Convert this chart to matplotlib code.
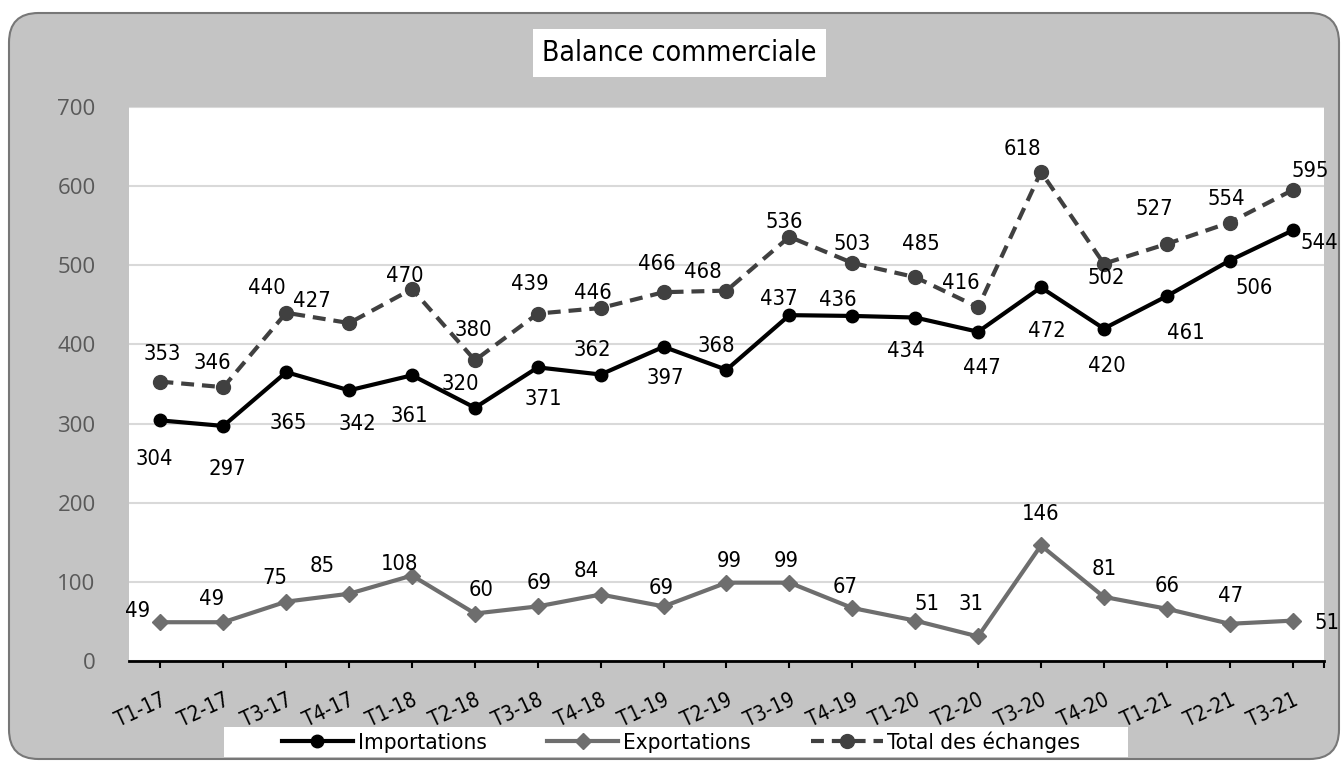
import matplotlib
matplotlib.use("Agg")
import matplotlib.pyplot as plt
from matplotlib import font_manager as fm
from matplotlib.patches import FancyBboxPatch, Rectangle
from matplotlib.lines import Line2D

# data
quarters = ["T1-17", "T2-17", "T3-17", "T4-17", "T1-18", "T2-18", "T3-18", "T4-18",
            "T1-19", "T2-19", "T3-19", "T4-19", "T1-20", "T2-20", "T3-20", "T4-20",
            "T1-21", "T2-21", "T3-21"]
importations = [304, 297, 365, 342, 361, 320, 371, 362, 397, 368, 437, 436, 434, 416, 472, 420, 461, 506, 544]
exportations = [49, 49, 75, 85, 108, 60, 69, 84, 69, 99, 99, 67, 51, 31, 146, 81, 66, 47, 51]
total = [353, 346, 440, 427, 470, 380, 439, 446, 466, 468, 536, 503, 485, 447, 618, 502, 527, 554, 595]

# label texts as printed on the chart (T2-20 labels are swapped in the source)
imp_labels = [str(v) for v in importations]
tot_labels = [str(v) for v in total]
imp_labels[13], tot_labels[13] = "447", "416"
exp_labels = [str(v) for v in exportations]

# label offsets in pixels (dx, dy downwards), placed by hand like in the source
imp_off = [(-6, 39), (4, 43), (2, 51), (8, 34), (-3, 41), (-15, -24), (5, 32), (-8, -25), (2, 31),
           (-10, -24), (-11, -16), (-14, -16), (-9, 33), (4, 36), (6, 44), (3, 37), (19, 37), (25, 27), (27, 13)]
exp_off = [(-23, -11), (-12, -23), (-11, -24), (-27, -28), (-12, -12), (6, -24), (1, -23), (-14, -24), (-2, -18),
           (3, -22), (-3, -22), (-7, -21), (12, -17), (-7, -32), (0, -31), (0, -28), (0, -23), (1, -28), (34, 2)]
tot_off = [(2, -28), (-11, -24), (-19, -25), (-37, -22), (-7, -13), (-2, -30), (-8, -30), (-8, -15), (-7, -28),
           (-24, -19), (-5, -15), (0, -19), (6, -33), (-17, -24), (-19, -23), (2, 14), (-12, -35), (-3, -24), (18, -19)]

# pick a narrow font if one is around
fonts = fm.fontManager.ttflist
names = {f.name for f in fonts}
if "Liberation Sans Narrow" in names:
    narrow = fm.FontProperties(family="Liberation Sans Narrow")
    k = 1.0
elif any(f.name == "DejaVu Sans" and f.stretch == "condensed" for f in fonts):
    narrow = fm.FontProperties(family="DejaVu Sans", stretch="condensed")
    k = 0.85
else:
    narrow = fm.FontProperties(family="Liberation Sans")
    k = 0.86


def fp(size):
    p = narrow.copy()
    p.set_size(size * k)
    return p


W, H = 1341, 763

fig = plt.figure(figsize=(W / 100, H / 100), dpi=100)
fig.patch.set_facecolor("white")

# gray rounded chart area
bg = FancyBboxPatch((9 / W, 1 - 759 / H), 1330 / W, 746 / H,
                    boxstyle="round,pad=0,rounding_size=0.022",
                    transform=fig.transFigure, facecolor="#c4c4c4", edgecolor="#777777",
                    linewidth=1.5, mutation_aspect=W / H, zorder=-10)
fig.patches.append(bg)

ax = fig.add_axes([129 / W, 1 - 661 / H, 1195 / W, 554 / H])
ax.set_facecolor("white")
x = list(range(len(quarters)))

ax.plot(x, importations, color="black", lw=3, marker="o", ms=9, zorder=4)
ax.plot(x, exportations, color="#6e6e6e", lw=3, marker="D", ms=8, zorder=3)
ax.plot(x, total, color="#404040", lw=3, marker="o", ms=10, dashes=(3.1, 1.9), zorder=3)

for vals, labs, offs in [(importations, imp_labels, imp_off),
                         (exportations, exp_labels, exp_off),
                         (total, tot_labels, tot_off)]:
    for i, (v, t, (dx, dy)) in enumerate(zip(vals, labs, offs)):
        ax.annotate(t, (i, v), xytext=(dx, -dy), textcoords="offset pixels",
                    ha="center", va="center", fontproperties=fp(18.5), color="black", zorder=5)

ax.set_xlim(-0.5, len(quarters) - 0.5)
ax.set_ylim(0, 700)
ax.set_yticks(range(0, 701, 100))
ax.yaxis.grid(True, color="#d9d9d9", lw=1.5)
ax.set_axisbelow(True)
for s in ["top", "right", "left"]:
    ax.spines[s].set_visible(False)
ax.spines["bottom"].set_linewidth(2)
ax.spines["bottom"].set_color("black")
ax.tick_params(axis="y", length=0, pad=24, labelsize=16, labelcolor="#595959")
for lab in ax.get_yticklabels():
    lab.set_family(["Open Sans", "DejaVu Sans"])
ax.set_xticks(x)
ax.set_xticks([len(quarters) - 0.5], minor=True)
ax.tick_params(axis="x", which="both", length=5, width=1.5, color="black", direction="out")
ax.set_xticklabels(quarters, rotation=25, ha="right", rotation_mode="anchor",
                   fontproperties=fp(17.5))
ax.tick_params(axis="x", pad=16)

# title box
fig.patches.append(Rectangle((533 / W, 1 - 77 / H), 293 / W, 48 / H, transform=fig.transFigure,
                             facecolor="white", edgecolor="none"))
fig.text(679.5 / W, 1 - 53 / H, "Balance commerciale", ha="center", va="center",
         fontproperties=fp(24), color="black")

# legend box
fig.patches.append(Rectangle((224 / W, 1 - 757 / H), 904 / W, 30 / H, transform=fig.transFigure,
                             facecolor="white", edgecolor="none", zorder=1))
handles = [
    Line2D([], [], color="black", lw=3, marker="o", ms=9),
    Line2D([], [], color="#6e6e6e", lw=3, marker="D", ms=8),
    Line2D([], [], color="#404040", lw=3, marker="o", ms=10, dashes=(3.1, 1.9)),
]
fig.legend(handles, ["Importations", "Exportations", "Total des échanges"],
           loc="center", bbox_to_anchor=(681 / W, 1 - 742 / H), ncol=3, frameon=False,
           prop=fp(19), handlelength=2.7 / k, handletextpad=0.2, columnspacing=2.3 / k, borderpad=0)

fig.savefig("out.png", dpi=100)
